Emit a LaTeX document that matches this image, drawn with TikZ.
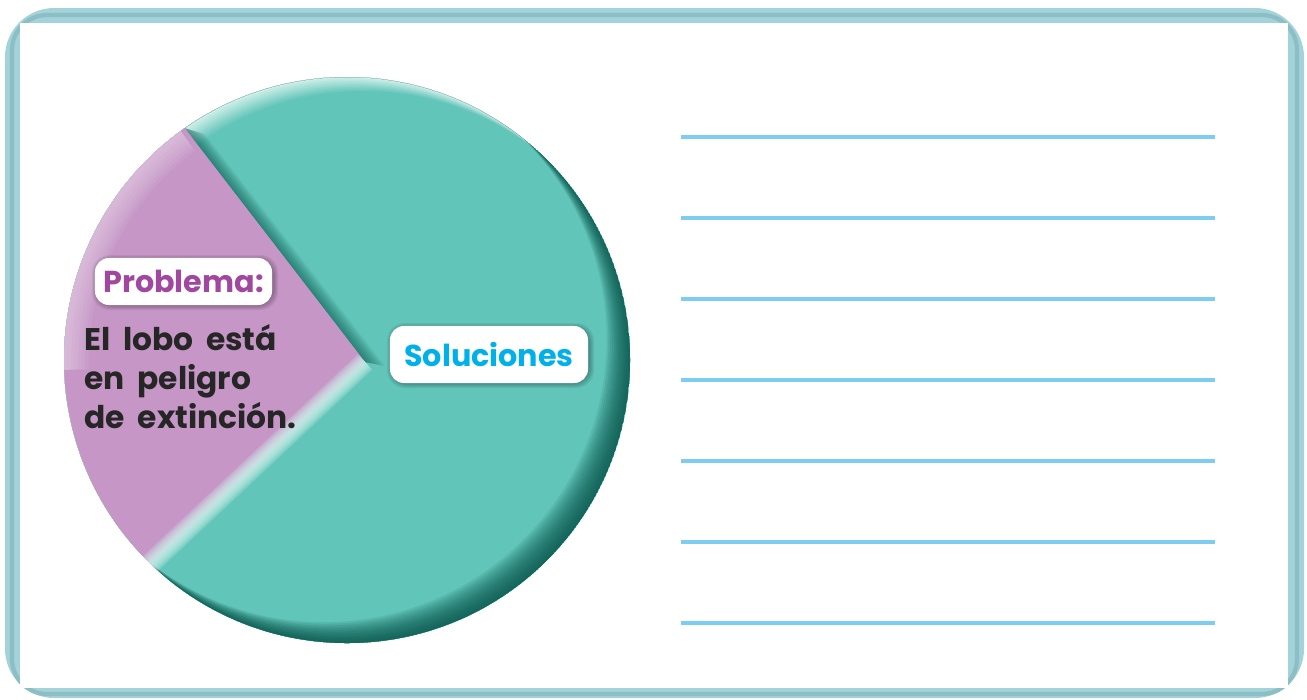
\documentclass[tikz,border=0pt]{standalone}
\usepackage{fontspec}
\newfontfamily\gothic{Poppins}
\newcommand\widewords{\spaceskip=0.4em\relax}
\usetikzlibrary{positioning,calc}
\definecolor{cFrame}{RGB}{163,211,217}
\definecolor{cFrameDk}{RGB}{140,190,198}
\definecolor{cTeal}{RGB}{98,197,185}
\definecolor{cTealDk}{RGB}{5,80,70}
\definecolor{cTealLt}{RGB}{205,238,233}
\definecolor{cLila}{RGB}{197,150,198}
\definecolor{cLilaLt}{RGB}{232,212,232}
\definecolor{cLilaTxt}{RGB}{160,72,160}
\definecolor{cSol}{RGB}{0,176,232}
\definecolor{cLine}{RGB}{125,205,240}

\begin{document}
\begin{tikzpicture}[x=0.01cm,y=0.01cm,
    every node/.style={font=\gothic\bfseries},
    tag/.style={fill=white,rounded corners=4pt,inner sep=0pt},
    tagshadow/.style={fill=black,opacity=0.06,rounded corners=5pt},
    writeline/.style={draw=cLine,line width=0.9pt}]
  \useasboundingbox (0,0) rectangle (1307,699);
  % frame
  \fill[cFrame,rounded corners=14pt] (5,1) rectangle (1304,691);
  \draw[cFrameDk,line width=1.2pt,rounded corners=10pt] (12,5) rectangle (1297,684);
  \fill[white] (20,11) rectangle (1288,676);
  % pie
  \coordinate (c) at (347,339);
  \coordinate (apex) at (365,337);
  \coordinate (up) at ($(c)+(125:283)$);
  \coordinate (lo) at ($(c)+(226:283)$);
  \begin{scope}
    \clip (c) circle[radius=283];
    \fill[cTealLt] (c) circle[radius=283];
    \foreach \s in {1,...,10}
      \fill[cTeal!\the\numexpr\s*10\relax!cTealLt] ($(c)+(1.6*\s,-1.4*\s)$) circle[radius=283];
    \foreach \s in {2,4,...,26}
      \fill[cTealDk,opacity=0.11,even odd rule] (c) circle[radius=283] ($(c)+(-0.9*\s,0.8*\s)$) circle[radius=283];
    % shadow of the wedge on the teal part
    \foreach \s in {2,4,...,20}
      \fill[cTealDk,opacity=0.07] (apex) -- (up) -- ($(up)+(\s,-0.3*\s)$) -- ($(apex)+(\s,-0.2*\s)$) -- cycle;
    \fill[cLila] (apex) -- (up) arc[start angle=125,end angle=226,radius=283] -- cycle;
    \foreach \w in {2,4,...,14}
      \draw[cLilaLt,line width=\w pt,opacity=0.12] ($(c)+(126:283)$) arc[start angle=126,end angle=182,radius=283];
    \foreach \w in {1,2,...,6}
      \draw[cTealLt,line width=\w pt,opacity=0.25] (lo) -- (apex);
  \end{scope}
  % labels
  \foreach \g in {1,...,5}
    \fill[tagshadow] ($(95,394)+(-\g+2,-\g)$) rectangle ($(272,441)+(\g+1,\g-2)$);
  \node[tag,text=cLilaTxt,font=\gothic\bfseries\fontsize{8.6}{10}\selectfont,
    minimum width=1.77cm,minimum height=0.47cm] (prob) at (183.5,417.5) {Problema:};
  \node[anchor=west,align=left,inner sep=0pt,text=black!85,
    font=\gothic\bfseries\fontsize{8.9}{11.1}\selectfont\widewords] (probtxt) at (84,322)
    {El lobo está\\en peligro\\de extinción.};
  \foreach \g in {1,...,5}
    \fill[tagshadow] ($(390,316)+(-\g+2,-\g)$) rectangle ($(588,373)+(\g+1,\g-2)$);
  \node[tag,text=cSol,font=\gothic\bfseries\fontsize{8.6}{10}\selectfont,
    minimum width=1.98cm,minimum height=0.57cm] (sol) at (489,344.5) {Soluciones};
  % lines
  \foreach \ly in {562,481,400,319,238,157,76}
    \draw[writeline] (681,\ly) -- (1215,\ly);
\end{tikzpicture}
\end{document}
